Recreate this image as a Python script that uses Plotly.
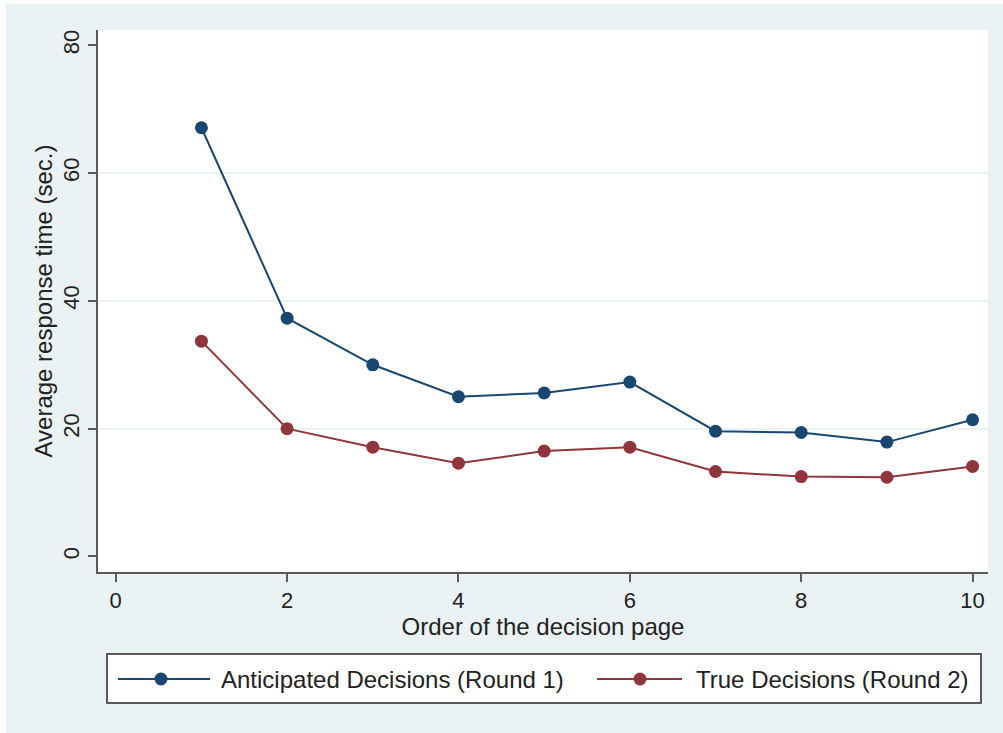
import plotly.graph_objects as go

pages = [1, 2, 3, 4, 5, 6, 7, 8, 9, 10]
anticipated = [67.1, 37.3, 30.0, 25.0, 25.6, 27.3, 19.6, 19.4, 17.9, 21.4]
true_dec = [33.7, 20.0, 17.1, 14.6, 16.5, 17.1, 13.3, 12.5, 12.4, 14.1]
series_names = ["Anticipated Decisions (Round 1)", "True Decisions (Round 2)"]
x_ticks = [0, 2, 4, 6, 8, 10]
y_ticks = [0, 20, 40, 60, 80]
y_grid = [20, 40, 60]

BLUE = "#1a476f"
RED = "#90353b"
PANEL = "#eaf2f3"
AXIS = "#5a5a5a"
FONT = "Liberation Sans, Arial, sans-serif"

W, H = 1003, 733
L, R, T, B = 98, 15, 30, 161
PW, PH = W - L - R, H - T - B


def px(X):
    return (X - L) / PW


def py(Y):
    return (H - B - Y) / PH


fig = go.Figure()
fig.add_trace(go.Scatter(x=pages, y=anticipated, mode="lines+markers", name=series_names[0],
                         line=dict(color=BLUE, width=2), marker=dict(color=BLUE, size=13),
                         showlegend=False))
fig.add_trace(go.Scatter(x=pages, y=true_dec, mode="lines+markers", name=series_names[1],
                         line=dict(color=RED, width=2), marker=dict(color=RED, size=13),
                         showlegend=False))

yr = [-2.43, 82.4]
fig.update_layout(
    width=W, height=H,
    margin=dict(l=L, r=R, t=T, b=B),
    paper_bgcolor=PANEL, plot_bgcolor="white",
    font=dict(family=FONT, size=22, color="#222222"),
    xaxis=dict(range=[-0.207, 10.18], tickvals=x_ticks, showgrid=False, zeroline=False,
               showline=True, linecolor=AXIS, linewidth=2, ticks="outside", ticklen=8,
               tickwidth=1.5, tickcolor=AXIS, tickfont=dict(size=22),
               title=dict(text="Order of the decision page", font=dict(size=24), standoff=4)),
    yaxis=dict(range=yr, tickvals=y_ticks, showgrid=False, zeroline=False,
               showline=True, linecolor=AXIS, linewidth=2, ticks="outside", ticklen=8,
               tickwidth=1.5, tickcolor=AXIS, tickangle=-90, tickfont=dict(size=22),
               title=dict(text="Average response time (sec.)", font=dict(size=24), standoff=0)),
    yaxis2=dict(range=yr, overlaying="y", tickvals=y_grid, showgrid=True, gridcolor=PANEL,
                gridwidth=2, showticklabels=False, ticks="", showline=False, zeroline=False),
    showlegend=False,
)
# invisible trace to activate yaxis2 grid
fig.add_trace(go.Scatter(x=[pages[0]], y=[y_grid[0]], yaxis="y2", mode="markers",
                         marker=dict(opacity=0), hoverinfo="skip", showlegend=False))

shapes = []
# white outer border strips
shapes.append(dict(type="rect", xref="paper", yref="paper", x0=px(-5), x1=px(6), y0=py(H + 5), y1=py(-5),
                   fillcolor="white", line=dict(width=0), layer="above"))
shapes.append(dict(type="rect", xref="paper", yref="paper", x0=px(-5), x1=px(W + 5), y0=py(4), y1=py(-5),
                   fillcolor="white", line=dict(width=0), layer="above"))
# legend box
shapes.append(dict(type="rect", xref="paper", yref="paper", x0=px(107), x1=px(981), y0=py(703), y1=py(654),
                   fillcolor="white", line=dict(color=AXIS, width=2), layer="above"))
ly = 679
for (lx0, lx1, mx, col) in [(118, 210, 161, BLUE), (597, 682, 640, RED)]:
    shapes.append(dict(type="line", xref="paper", yref="paper", x0=px(lx0), x1=px(lx1), y0=py(ly), y1=py(ly),
                       line=dict(color=col, width=2), layer="above"))
    r = 6.5
    shapes.append(dict(type="circle", xref="paper", yref="paper", x0=px(mx - r), x1=px(mx + r),
                       y0=py(ly + r), y1=py(ly - r), fillcolor=col, line=dict(color=col, width=0),
                       layer="above"))
fig.update_layout(shapes=shapes)

annotations = []
for name, tx in zip(series_names, [219, 694]):
    annotations.append(dict(text=name, xref="paper", yref="paper", x=px(tx), y=py(ly), xanchor="left",
                            yanchor="middle", showarrow=False, font=dict(size=24, color="#222222")))
fig.update_layout(annotations=annotations)

fig.write_html("out.html")
